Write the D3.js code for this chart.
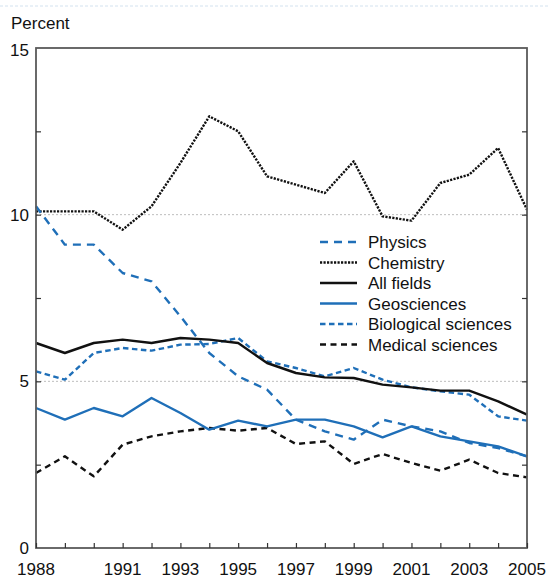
<!DOCTYPE html>
<html><head><meta charset="utf-8">
<script src="https://cdn.jsdelivr.net/npm/d3@7"></script>
<style>
html,body{margin:0;padding:0;background:#fff;}
svg{display:block;font-family:"Liberation Sans",Arial,Helvetica,sans-serif;}
</style></head>
<body><svg id="c" width="548" height="578"></svg>
<script>
const years = d3.range(1988, 2006);
const xTickLabels = [1988, 1991, 1993, 1995, 1997, 1999, 2001, 2003, 2005];
const yTickLabels = [0, 5, 10, 15];
const physics    = [10.25, 9.1, 9.1, 8.25, 8.0, 6.95, 5.85, 5.15, 4.75, 3.85, 3.5, 3.25, 3.85, 3.65, 3.5, 3.15, 3.0, 2.75];
const chemistry  = [10.1, 10.1, 10.1, 9.55, 10.25, 11.55, 12.95, 12.5, 11.15, 10.9, 10.65, 11.6, 9.95, 9.82, 10.95, 11.2, 12.0, 10.15];
const allFields  = [6.15, 5.85, 6.15, 6.25, 6.15, 6.3, 6.25, 6.15, 5.55, 5.25, 5.12, 5.1, 4.9, 4.82, 4.72, 4.72, 4.4, 4.0];
const geosciences= [4.2, 3.85, 4.2, 3.95, 4.5, 4.05, 3.55, 3.82, 3.65, 3.85, 3.85, 3.65, 3.32, 3.65, 3.35, 3.2, 3.05, 2.75];
const biological = [5.3, 5.05, 5.85, 6.0, 5.92, 6.1, 6.12, 6.3, 5.6, 5.4, 5.15, 5.4, 5.05, 4.82, 4.7, 4.6, 3.95, 3.82];
const medical    = [2.25, 2.75, 2.15, 3.1, 3.35, 3.5, 3.6, 3.52, 3.6, 3.12, 3.2, 2.52, 2.82, 2.55, 2.32, 2.65, 2.25, 2.12];
const seriesNames = ["Physics", "Chemistry", "All fields", "Geosciences", "Biological sciences", "Medical sciences"];

const BLUE = "#1f6fb8", BLACK = "#111";
const styles = {
  "Physics": {color: BLUE, dash: "8,6"},
  "Chemistry": {color: BLACK, dash: "2.2,1.3"},
  "All fields": {color: BLACK, dash: null},
  "Geosciences": {color: BLUE, dash: null},
  "Biological sciences": {color: BLUE, dash: "5.5,3.5"},
  "Medical sciences": {color: BLACK, dash: "6,4.5"}
};
const data = {
  "Physics": physics, "Chemistry": chemistry, "All fields": allFields,
  "Geosciences": geosciences, "Biological sciences": biological, "Medical sciences": medical
};

const svg = d3.select("#c");
const x = d3.scaleLinear().domain([1988, 2005]).range([36, 527]);
const y = d3.scaleLinear().domain([0, 15]).range([548, 48]);

// faint top decorative line
svg.append("line").attr("x1", 0).attr("x2", 548).attr("y1", 6).attr("y2", 6)
  .attr("stroke", "#d3e2ef").attr("stroke-width", 1).attr("stroke-dasharray", "3,2");

// gridlines at 5 and 10
svg.selectAll(".grid").data([5, 10]).enter().append("line")
  .attr("x1", x(1988)).attr("x2", x(2005))
  .attr("y1", d => y(d)).attr("y2", d => y(d))
  .attr("stroke", "#bdbdbd").attr("stroke-width", 1).attr("stroke-dasharray", "2,2");

// lines
const line = d3.line().x((d, i) => x(years[i])).y(d => y(d));
const drawOrder = ["Chemistry", "Physics", "Medical sciences", "Geosciences", "Biological sciences", "All fields"];
drawOrder.forEach(name => {
  const s = styles[name];
  svg.append("path").datum(data[name]).attr("d", line)
    .attr("fill", "none").attr("stroke", s.color).attr("stroke-width", 2.4)
    .attr("stroke-linejoin", "round")
    .attr("stroke-dasharray", s.dash);
});

// frame: axes
const frame = svg.append("g");
frame.append("rect").attr("x", x(1988)).attr("y", y(15))
  .attr("width", x(2005) - x(1988)).attr("height", y(0) - y(15))
  .attr("fill", "none").attr("stroke", "#5a5a5a").attr("stroke-width", 1.8);

// x axis ticks (inward)
const xAxis = d3.axisBottom(x).tickValues(years).tickSize(-5).tickFormat("");
svg.append("g").attr("transform", `translate(0,${y(0)})`).call(xAxis)
  .call(g => g.select(".domain").remove())
  .call(g => g.selectAll("line").attr("stroke", "#333").attr("stroke-width", 1.2));

// y axis ticks (inward) left and right
const yTicks = [2.5, 5, 7.5, 10, 12.5];
svg.append("g").attr("transform", `translate(${x(1988)},0)`)
  .call(d3.axisRight(y).tickValues(yTicks).tickSize(5).tickFormat(""))
  .call(g => g.select(".domain").remove())
  .call(g => g.selectAll("line").attr("stroke", "#333").attr("stroke-width", 1.2));
svg.append("g").attr("transform", `translate(${x(2005)},0)`)
  .call(d3.axisLeft(y).tickValues(yTicks).tickSize(5).tickFormat(""))
  .call(g => g.select(".domain").remove())
  .call(g => g.selectAll("line").attr("stroke", "#333").attr("stroke-width", 1.2));

// tick labels
svg.selectAll(".yl").data(yTickLabels).enter().append("text")
  .attr("x", 29).attr("y", d => y(d) + 6 + (d === 15 ? 2 : 0))
  .attr("text-anchor", "end").attr("font-size", 17).attr("fill", "#111")
  .text(d => d);
svg.selectAll(".xl").data(xTickLabels).enter().append("text")
  .attr("x", d => x(d)).attr("y", 575)
  .attr("text-anchor", "middle").attr("font-size", 17).attr("fill", "#111")
  .text(d => d);

svg.append("text").attr("x", 11).attr("y", 29).attr("font-size", 17).attr("fill", "#111").text("Percent");

// legend
const lg = svg.append("g");
seriesNames.forEach((name, i) => {
  const yy = 242 + i * 20.5;
  const s = styles[name];
  lg.append("line").attr("x1", 320).attr("x2", 357).attr("y1", yy).attr("y2", yy)
    .attr("stroke", s.color).attr("stroke-width", 2.4).attr("stroke-dasharray", s.dash);
  lg.append("text").attr("x", 368).attr("y", yy + 6).attr("font-size", 17).attr("fill", "#111").text(name);
});
</script></body></html>
